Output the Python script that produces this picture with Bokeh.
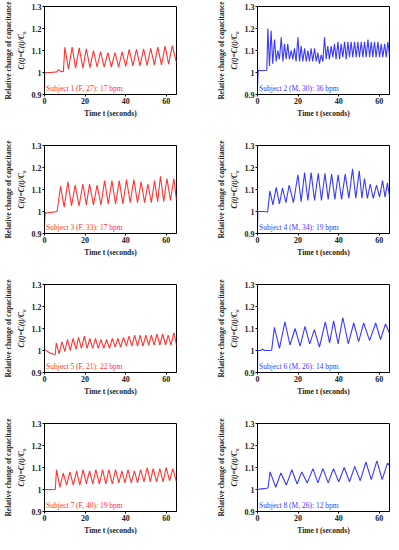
from bokeh.plotting import figure
from bokeh.models import LinearAxis, FixedTicker, Label, Range1d
from bokeh.layouts import column, row
from bokeh.embed import file_html
from bokeh.resources import INLINE

RED = "#ff3636"
BLUE = "#3a3aff"
FONT = "Liberation Serif"

x_ticks = [0, 20, 40, 60]
y_ticks = [0.9, 1.0, 1.1, 1.2, 1.3]

labels = [
    "Subject 1 (F, 27): 17 bpm", "Subject 2 (M, 30): 36 bpm",
    "Subject 3 (F, 33): 17 bpm", "Subject 4 (M, 34): 19 bpm",
    "Subject 5 (F, 21): 22 bpm", "Subject 6 (M, 26): 14 bpm",
    "Subject 7 (F, 40): 19 bpm", "Subject 8 (M, 26): 12 bpm",
]

# ---- Subject 1 ----
s1_start_t = [0, 0.1, 3.0, 6.0, 6.8, 7.6, 8.5, 9.3]
s1_start_v = [0.90, 1.00, 1.00, 1.003, 1.012, 1.008, 1.003, 1.005]
s1_peak_t = [10.0, 13.6, 17.1, 20.6, 24.1, 27.6, 31.2, 34.7, 38.2, 41.7, 45.3, 48.8, 52.3, 55.8, 59.4, 62.9]
s1_peak_v = [1.115, 1.115, 1.112, 1.108, 1.10, 1.095, 1.09, 1.09, 1.095, 1.105, 1.105, 1.108, 1.11, 1.115, 1.12, 1.122]
s1_trough_t = [11.8, 15.3, 18.9, 22.4, 25.9, 29.4, 32.9, 36.5, 40.0, 43.5, 47.0, 50.5, 54.1, 57.6, 61.1]
s1_trough_v = [1.015, 1.02, 1.02, 1.022, 1.025, 1.025, 1.025, 1.025, 1.028, 1.03, 1.03, 1.032, 1.035, 1.035, 1.038]
s1_end = (65.0, 1.045)

# ---- Subject 2 ----
s2_start_t = [0, 0.3, 0.5, 2.0, 4.6]
s2_start_v = [0.935, 1.0, 1.01, 1.008, 1.01]
s2_peak_t = [5.1, 6.7, 8.4, 10.0, 11.7, 13.3, 14.9, 16.6, 18.2, 19.9, 21.5, 23.2, 24.8, 26.4, 28.1, 29.7, 31.4,
             33.0, 34.6, 36.3, 37.9, 39.6, 41.2, 42.9, 44.5, 46.1, 47.8, 49.4, 51.1, 52.7, 54.4, 56.0, 57.6,
             59.3, 60.9, 62.6, 64.2]
s2_peak_v = [1.20, 1.19, 1.15, 1.10, 1.16, 1.13, 1.13, 1.10, 1.11, 1.16, 1.12, 1.11, 1.10, 1.11, 1.11, 1.09, 1.08,
             1.16, 1.12, 1.12, 1.13, 1.14, 1.13, 1.14, 1.14, 1.14, 1.14, 1.14, 1.14, 1.14, 1.15, 1.14, 1.14,
             1.14, 1.13, 1.13, 1.14]
s2_trough_t = [5.9, 7.5, 9.2, 10.8, 12.5, 14.1, 15.7, 17.4, 19.0, 20.7, 22.3, 24.0, 25.6, 27.2, 28.9, 30.5, 32.2,
               33.8, 35.4, 37.1, 38.7, 40.4, 42.0, 43.7, 45.3, 46.9, 48.6, 50.2, 51.9, 53.5, 55.2, 56.8, 58.4,
               60.1, 61.7, 63.4]
s2_trough_v = [1.03, 1.04, 1.05, 1.06, 1.05, 1.06, 1.06, 1.06, 1.05, 1.05, 1.05, 1.05, 1.05, 1.05, 1.05, 1.04, 1.05,
               1.06, 1.06, 1.07, 1.06, 1.06, 1.07, 1.06, 1.07, 1.07, 1.07, 1.07, 1.07, 1.07, 1.07, 1.07, 1.07,
               1.07, 1.07, 1.07]
s2_end = (65.0, 1.08)

# ---- Subject 3 ----
s3_start_t = [0, 0.3, 1.0, 4.0, 6.2]
s3_start_v = [0.935, 0.995, 0.993, 0.997, 1.0]
s3_peak_t = [7.9, 11.5, 15.1, 18.9, 22.2, 25.9, 29.6, 33.2, 36.8, 40.4, 44.0, 47.6, 50.9, 54.2, 57.1, 60.3, 63.7]
s3_peak_v = [1.115, 1.135, 1.12, 1.125, 1.125, 1.12, 1.14, 1.14, 1.14, 1.145, 1.145, 1.135, 1.125, 1.14, 1.16, 1.15, 1.15]
s3_trough_t = [9.7, 13.3, 17.0, 20.6, 24.1, 27.8, 31.4, 35.0, 38.6, 42.2, 45.8, 49.3, 52.6, 55.7, 58.7, 62.0]
s3_trough_v = [1.02, 1.025, 1.025, 1.03, 1.03, 1.03, 1.035, 1.035, 1.035, 1.04, 1.04, 1.04, 1.04, 1.045, 1.045, 1.05]
s3_end = (65.0, 1.05)

# ---- Subject 4 ----
s4_start_t = [0, 0.2, 0.4, 3.0, 5.0]
s4_start_v = [0.93, 1.0, 1.0, 1.0, 0.998]
s4_peak_t = [6.1, 9.2, 12.3, 15.6, 19.9, 23.2, 26.4, 29.9, 33.2, 36.5, 39.7, 43.2, 46.8, 50.1, 52.7, 55.5, 58.6, 61.6, 64.0]
s4_peak_v = [1.094, 1.11, 1.106, 1.12, 1.167, 1.177, 1.177, 1.173, 1.173, 1.17, 1.167, 1.17, 1.194, 1.185, 1.15, 1.125, 1.12, 1.14, 1.13]
s4_trough_t = [7.6, 10.8, 14.0, 17.7, 21.5, 24.8, 28.1, 31.5, 34.8, 38.1, 41.4, 45.0, 48.4, 51.4, 54.1, 57.0, 60.1, 62.8]
s4_trough_v = [1.03, 1.035, 1.04, 1.04, 1.045, 1.05, 1.05, 1.05, 1.055, 1.055, 1.055, 1.06, 1.06, 1.06, 1.06, 1.06, 1.065, 1.065]
s4_end = (65.0, 1.07)

# ---- Subject 5 ----
s5_start_t = [0, 1.5, 3.0, 4.5, 5.3]
s5_start_v = [1.005, 0.995, 0.988, 0.983, 0.982]
s5_peak_t = [5.8, 8.6, 11.3, 14.1, 16.8, 19.6, 22.3, 25.1, 27.8, 30.6, 33.4, 36.1, 38.9, 41.6, 44.4, 47.1, 49.9,
             52.6, 55.4, 58.2, 60.9, 63.7]
s5_peak_v = [1.035, 1.04, 1.05, 1.055, 1.06, 1.065, 1.055, 1.055, 1.05, 1.05, 1.055, 1.055, 1.06, 1.065, 1.07, 1.07,
             1.07, 1.07, 1.075, 1.075, 1.07, 1.08]
s5_trough_t = [7.2, 10.0, 12.7, 15.5, 18.2, 21.0, 23.7, 26.5, 29.2, 32.0, 34.8, 37.5, 40.3, 43.0, 45.8, 48.5, 51.3,
               54.0, 56.8, 59.6, 62.3]
s5_trough_v = [0.985, 0.995, 1.0, 1.005, 1.01, 1.01, 1.01, 1.01, 1.01, 1.01, 1.015, 1.015, 1.02, 1.02, 1.02, 1.02,
               1.025, 1.025, 1.025, 1.025, 1.025]
s5_end = (65.0, 1.025)

# ---- Subject 6 ----
s6_start_t = [0, 0.1, 1.5, 2.5, 3.5, 6.5, 7.0]
s6_start_v = [0.90, 1.0, 1.0, 1.006, 1.0, 1.0, 1.003]
s6_peak_t = [8.3, 13.5, 18.5, 23.4, 28.0, 33.4, 37.5, 42.0, 47.4, 52.3, 58.2, 63.0]
s6_peak_v = [1.105, 1.13, 1.10, 1.11, 1.095, 1.13, 1.135, 1.15, 1.125, 1.125, 1.125, 1.12]
s6_trough_t = [10.8, 16.0, 21.0, 25.7, 30.5, 35.5, 39.7, 44.7, 49.8, 55.2, 60.6]
s6_trough_v = [1.01, 1.025, 1.02, 1.03, 1.015, 1.035, 1.03, 1.03, 1.04, 1.045, 1.05]
s6_end = (65.0, 1.08)

# ---- Subject 7 ----
s7_start_t = [0, 2.0, 2.5, 3.0, 5.3]
s7_start_v = [1.0, 1.0, 0.997, 1.0, 1.0]
s7_peak_t = [5.9, 9.2, 12.5, 15.8, 19.0, 22.2, 25.3, 28.6, 31.7, 35.0, 38.1, 41.1, 44.3, 47.3, 50.6, 53.5, 56.8, 59.9, 63.2]
s7_peak_v = [1.09, 1.075, 1.08, 1.085, 1.09, 1.085, 1.09, 1.09, 1.09, 1.09, 1.085, 1.09, 1.085, 1.09, 1.10, 1.095, 1.095, 1.10, 1.095]
s7_trough_t = [7.6, 10.9, 14.2, 17.4, 20.6, 23.8, 27.0, 30.2, 33.4, 36.6, 39.6, 42.7, 45.8, 49.0, 52.1, 55.2, 58.4, 61.6]
s7_trough_v = [1.01, 1.02, 1.02, 1.02, 1.025, 1.025, 1.025, 1.025, 1.025, 1.03, 1.03, 1.03, 1.03, 1.035, 1.035, 1.035, 1.035, 1.04]
s7_end = (65.0, 1.035)

# ---- Subject 8 ----
s8_start_t = [0, 2.0, 4.5, 5.2]
s8_start_v = [1.0, 1.003, 1.006, 1.008]
s8_peak_t = [6.2, 11.5, 16.9, 21.8, 27.3, 32.2, 37.4, 42.7, 47.9, 53.4, 58.8, 64.0]
s8_peak_v = [1.08, 1.075, 1.09, 1.08, 1.095, 1.095, 1.095, 1.10, 1.105, 1.125, 1.13, 1.12]
s8_trough_t = [9.0, 14.2, 19.5, 24.5, 29.7, 34.8, 40.0, 45.3, 50.6, 56.0, 61.4]
s8_trough_v = [1.01, 1.02, 1.025, 1.03, 1.03, 1.03, 1.035, 1.035, 1.04, 1.045, 1.045]
s8_end = (65.0, 1.11)


def series(st, sv, pt, pv, tt, tv, end):
    pts = list(zip(st, sv)) + list(zip(pt, pv)) + list(zip(tt, tv)) + [end]
    pts.sort(key=lambda q: q[0])
    return [q[0] for q in pts], [q[1] for q in pts]


data = [
    series(s1_start_t, s1_start_v, s1_peak_t, s1_peak_v, s1_trough_t, s1_trough_v, s1_end),
    series(s2_start_t, s2_start_v, s2_peak_t, s2_peak_v, s2_trough_t, s2_trough_v, s2_end),
    series(s3_start_t, s3_start_v, s3_peak_t, s3_peak_v, s3_trough_t, s3_trough_v, s3_end),
    series(s4_start_t, s4_start_v, s4_peak_t, s4_peak_v, s4_trough_t, s4_trough_v, s4_end),
    series(s5_start_t, s5_start_v, s5_peak_t, s5_peak_v, s5_trough_t, s5_trough_v, s5_end),
    series(s6_start_t, s6_start_v, s6_peak_t, s6_peak_v, s6_trough_t, s6_trough_v, s6_end),
    series(s7_start_t, s7_start_v, s7_peak_t, s7_peak_v, s7_trough_t, s7_trough_v, s7_end),
    series(s8_start_t, s8_start_v, s8_peak_t, s8_peak_v, s8_trough_t, s8_trough_v, s8_end),
]


def make_panel(i, last_row):
    left_col = (i % 2 == 0)
    color = RED if left_col else BLUE
    t, v = data[i]
    p = figure(
        frame_width=132, frame_height=88,
        x_range=Range1d(0, 65), y_range=Range1d(0.9, 1.3),
        output_backend="svg", toolbar_location=None,
        min_border_left=36 if left_col else 58,
        min_border_right=23 if left_col else 1,
        min_border_top=6,
        min_border_bottom=23 if last_row else 45,
        background_fill_color="white", border_fill_color="white",
        outline_line_color="black", outline_line_width=1,
    )
    p.xgrid.visible = False
    p.ygrid.visible = False
    p.line(t, v, line_color=color, line_width=1.1)

    xa = p.xaxis[0]
    xa.ticker = FixedTicker(ticks=x_ticks)
    xa.minor_tick_line_color = None
    xa.major_tick_out = 2
    xa.major_tick_in = 0
    xa.major_label_standoff = 1
    xa.axis_label = "Time t (seconds)"
    xa.axis_label_standoff = 2
    xa.axis_label_text_font = FONT
    xa.axis_label_text_font_size = "7.5px"
    xa.axis_label_text_font_style = "bold"
    xa.axis_label_text_color = "#222222"
    xa.major_label_text_font = FONT
    xa.major_label_text_font_size = "8px"
    xa.major_label_text_font_style = "bold"
    xa.major_label_text_color = "#222222"
    xa.axis_line_color = "black"

    ya = p.yaxis[0]
    ya.ticker = FixedTicker(ticks=y_ticks)
    ya.minor_tick_line_color = None
    ya.major_tick_out = 2
    ya.major_tick_in = 0
    ya.major_label_standoff = 1
    ya.axis_label = "C(t)=C(t)/C\u2080"
    ya.axis_label_standoff = 3
    ya.axis_label_text_font = FONT
    ya.axis_label_text_font_size = "7.5px"
    ya.axis_label_text_font_style = "bold italic"
    ya.axis_label_text_color = "#222222"
    ya.major_label_text_font = FONT
    ya.major_label_text_font_size = "8px"
    ya.major_label_text_font_style = "bold"
    ya.major_label_text_color = "#222222"
    ya.axis_line_color = "black"

    ya2 = LinearAxis(
        ticker=FixedTicker(ticks=[]),
        axis_line_color=None,
        major_tick_out=0, major_tick_in=0, major_label_standoff=0,
        minor_tick_line_color=None,
        axis_label="Relative change of capacitance",
        axis_label_standoff=1,
        axis_label_text_font=FONT,
        axis_label_text_font_size="7.5px",
        axis_label_text_font_style="bold",
        axis_label_text_color="#222222",
    )
    p.add_layout(ya2, "left")

    p.add_layout(Label(x=0.8, y=0.907, text=labels[i], text_font=FONT,
                       text_font_size="7.5px", text_color=color))
    return p


panels = [make_panel(i, i >= 6) for i in range(8)]
layout = column(
    row(panels[0], panels[1]),
    row(panels[2], panels[3]),
    row(panels[4], panels[5]),
    row(panels[6], panels[7]),
)

open("out.html", "w").write(file_html(layout, INLINE))
